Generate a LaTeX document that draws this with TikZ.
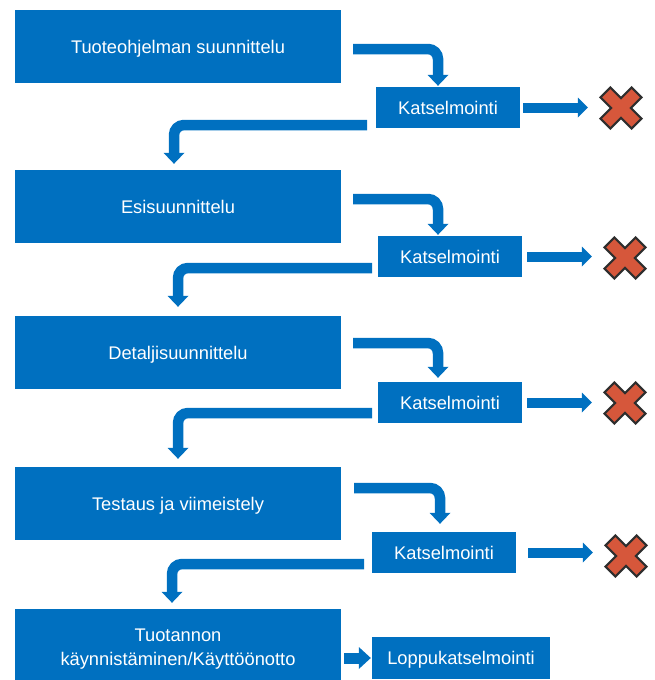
\documentclass[tikz,border=0pt]{standalone}
\usepackage{fontspec}
\setmainfont{Liberation Sans}
\usetikzlibrary{arrows.meta,calc}
\definecolor{mblue}{HTML}{0070C0}
\definecolor{xred}{HTML}{D6573B}
\definecolor{xdark}{HTML}{2E2E2E}
\begin{document}
\begin{tikzpicture}[x=1pt,y=-1pt,
  txt/.style={text=white, font=\fontsize{18.3}{24}\selectfont},
  onel/.style={text height=13.2pt, text depth=0pt},
  bigbox/.style={txt, fill=mblue, minimum width=326pt, minimum height=73pt, inner sep=0pt, align=center},
  revbox/.style={txt, onel, fill=mblue, minimum width=144pt, minimum height=41pt, inner sep=0pt},
  endbox/.style={txt, onel, fill=mblue, minimum width=178pt, minimum height=42pt, inner sep=0pt},
  xnode/.style={minimum width=66pt, minimum height=44pt, inner sep=0pt},
  bendarrow/.style={draw=mblue, line width=10.5pt, rounded corners=10pt,
    -{Triangle[width=21pt,length=11pt,line width=0pt]}},
  sarrow/.style={draw=mblue, line width=10pt,
    -{Triangle[width=20pt,length=10pt,line width=0pt]}},
  blockarrow/.style={draw=mblue, line width=11pt,
    -{Triangle[width=22pt,length=12pt,line width=0pt]}},
  xcross/.style={fill=xred, draw=xdark, line width=2.2pt, line join=miter}
]
\useasboundingbox (0,0) rectangle (655,680);

% main boxes
\node[bigbox, onel] (b1) at (178,46.5) {Tuoteohjelman suunnittelu};
\node[bigbox, onel] (b2) at (178,206.5) {Esisuunnittelu};
\node[bigbox, onel] (b3) at (178,352.5) {Detaljisuunnittelu};
\node[bigbox, onel] (b4) at (178,503.5) {Testaus ja viimeistely};
\node[bigbox, minimum height=81pt] (b5) at (178,649.5) {Tuotannon\\käynnistäminen/Käyttöönotto};

% review boxes
\node[revbox] (k1) at (448,107.5) {Katselmointi};
\node[revbox] (k2) at (450,256.5) {Katselmointi};
\node[revbox] (k3) at (450,402.5) {Katselmointi};
\node[revbox] (k4) at (444,552.5) {Katselmointi};
\node[endbox] (L) at (461,658) {Loppukatselmointi};

% X marks
\node[xnode] (x1) at (621,108) {};
\node[xnode] (x2) at (625,258) {};
\node[xnode] (x3) at (625,403) {};
\node[xnode] (x4) at (626,556) {};
\foreach \n in {x1,x2,x3,x4}{
  \draw[xcross, shift={(\n.center)}, rotate=45]
    (7,7) -- (22,7) -- (22,-7) -- (7,-7) -- (7,-22) -- (-7,-22) -- (-7,-7)
    -- (-22,-7) -- (-22,7) -- (-7,7) -- (-7,22) -- (7,22) -- cycle;
}

% start points of bent arrows
\coordinate (a1) at (353,49);
\coordinate (a2) at (353,199);
\coordinate (a3) at (353,343);
\coordinate (a4) at (354,488);
\coordinate (c1) at (367,125);
\coordinate (c2) at (372,268);
\coordinate (c3) at (372,413);
\coordinate (c4) at (364,564);

% box -> review
\draw[bendarrow] (a1) -| ([xshift=-10pt,yshift=1pt]k1.north);
\draw[bendarrow] (a2) -| ([xshift=-12pt,yshift=1pt]k2.north);
\draw[bendarrow] (a3) -| ([xshift=-12pt,yshift=4pt]k3.north);
\draw[bendarrow] (a4) -| ([xshift=-4pt,yshift=8pt]k4.north);

% review -> next box
\draw[bendarrow] (c1) -| ([xshift=-4pt,yshift=6pt]b2.north);
\draw[bendarrow] (c2) -| ([yshift=9pt]b3.north);
\draw[bendarrow] (c3) -| ([yshift=8pt]b4.north);
\draw[bendarrow] (c4) -| ([xshift=-6pt,yshift=6pt]b5.north);

% review -> rejection
\draw[sarrow] ([xshift=3pt]k1.east) -- (k1.east -| x1.west);
\draw[sarrow] ([xshift=5pt]k2.east) -- (k2.east -| x2.west);
\draw[sarrow] ([xshift=5pt]k3.east) -- (k3.east -| x3.west);
\draw[sarrow] ([xshift=12pt]k4.east) -- (k4.east -| x4.west);

% final
\draw[blockarrow] ($(b5.east |- L.west)+(3,0)$) -- ($(L.west)+(-1,0)$);
\end{tikzpicture}
\end{document}
